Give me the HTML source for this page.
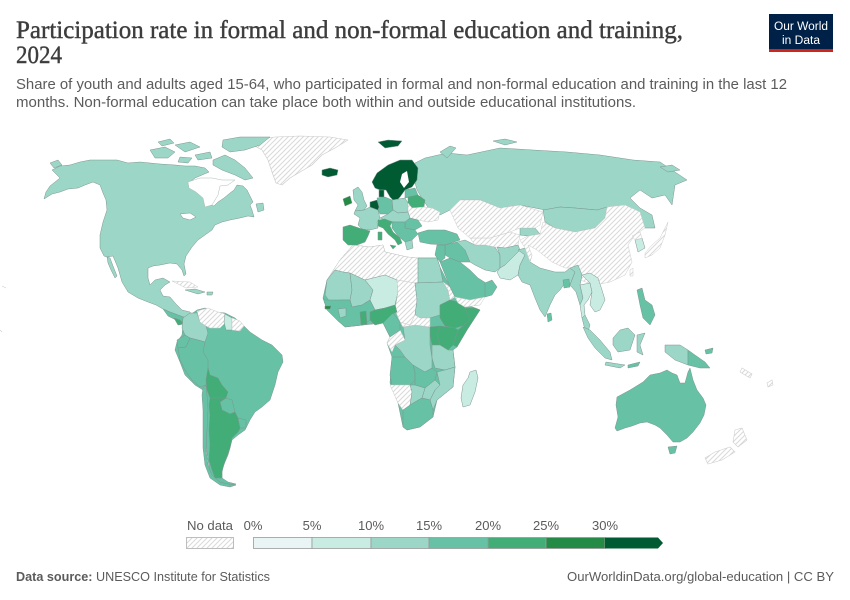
<!DOCTYPE html>
<html><head><meta charset="utf-8"><style>
html,body{margin:0;padding:0;background:#fff;}
svg{display:block;}
</style></head><body>
<svg width="850" height="600" viewBox="0 0 850 600" xmlns="http://www.w3.org/2000/svg">
<defs>
<pattern id="h" width="5" height="5" patternUnits="userSpaceOnUse">
<rect width="5" height="5" fill="#fff"/>
<path d="M-1,1 L1,-1 M0,5 L5,0 M4,6 L6,4" stroke="#d9d9d9" stroke-width="1"/>
</pattern>
</defs>
<rect width="850" height="600" fill="#fff"/>

<!-- Title -->
<text x="16" y="38" font-family="Liberation Serif, serif" font-size="25" fill="#3d3d3d" stroke="#3d3d3d" stroke-width="0.4" textLength="667" lengthAdjust="spacingAndGlyphs">Participation rate in formal and non-formal education and training,</text>
<text x="16" y="63" font-family="Liberation Serif, serif" font-size="25" fill="#3d3d3d" stroke="#3d3d3d" stroke-width="0.4" textLength="46" lengthAdjust="spacingAndGlyphs">2024</text>
<text x="16" y="89" font-family="Liberation Sans, sans-serif" font-size="14.5" fill="#5b5b5b" textLength="771" lengthAdjust="spacingAndGlyphs">Share of youth and adults aged 15-64, who participated in formal and non-formal education and training in the last 12</text>
<text x="16" y="107" font-family="Liberation Sans, sans-serif" font-size="14.5" fill="#5b5b5b" textLength="620" lengthAdjust="spacingAndGlyphs">months. Non-formal education can take place both within and outside educational institutions.</text>

<!-- Logo -->
<rect x="769" y="14" width="64" height="37" fill="#002147"/>
<rect x="769" y="49" width="64" height="3" fill="#ce261e"/>
<text x="801" y="30" text-anchor="middle" font-family="Liberation Sans, sans-serif" font-size="11.5" fill="#fff" textLength="54" lengthAdjust="spacingAndGlyphs">Our World</text>
<text x="801" y="44" text-anchor="middle" font-family="Liberation Sans, sans-serif" font-size="11.5" fill="#fff" textLength="38" lengthAdjust="spacingAndGlyphs">in Data</text>

<!-- MAP -->
<g stroke="#c9c9c9" stroke-width="0.6" stroke-linejoin="round">
<polygon fill="url(#h)" points="255,140 275,137 300,136 330,137 348,140 335,148 322,155 312,165 300,172 290,178 282,185 276,183 272,172 268,160 262,150 253,145"/>
</g>

<g stroke="#7e9690" stroke-width="0.5" stroke-linejoin="round">
<polygon fill="#9bd6c6" points="44,199 52,194 60,192 68,189 78,188 85,185 93,182 100,185 103,193 106,200 107,210 103,222 100,235 100,248 104,256 107,257 113,256 118,268 122,282 128,292 138,298 148,302 156,305 163,309 170,312 178,315 186,318 192,316 190,312 182,310 176,304 170,297 163,296 160,290 165,285 170,282 163,278 155,280 150,285 148,278 148,268 153,266 160,265 170,263 177,264 182,270 184,276 186,274 184,264 186,256 192,247 198,240 205,235 212,230 215,225 222,222 230,220 240,218 248,216 254,217 252,210 250,205 253,202 250,196 247,190 243,186 237,185 234,190 230,193 224,198 218,202 214,206 210,205 210,198 205,194 198,190 194,186 190,182 195,178 202,175 209,172 205,168 195,166 185,166 175,165 160,164 150,163 140,162 128,163 117,160 103,160 90,160 80,162 70,165 60,166 52,170 56,174 60,178 55,182 50,186 46,192"/>
<polygon fill="#9bd6c6" points="107,257 110,258 113,266 117,276 115,278 111,270 108,263"/>
<polygon fill="#9bd6c6" points="150,150 165,147 175,152 168,158 155,158"/>
<polygon fill="#9bd6c6" points="175,145 190,142 200,147 185,152"/>
<polygon fill="#9bd6c6" points="213,160 225,155 235,160 245,168 253,178 245,180 235,175 222,170 213,165"/>
<polygon fill="#9bd6c6" points="223,140 240,137 270,137 260,145 245,150 230,152 222,147"/>
<polygon fill="#9bd6c6" points="195,155 210,152 212,158 198,160"/>
<polygon fill="#9bd6c6" points="180,157 192,158 188,163 178,162"/>
<polygon fill="#9bd6c6" points="158,142 170,139 174,143 162,146"/>
<polygon fill="#9bd6c6" points="50,163 58,160 62,165 54,168"/>
<polygon fill="#9bd6c6" points="256,204 263,203 264,210 258,212"/>
<polygon fill="#66c1a5" points="163,309 170,312 178,315 186,318 183,322 176,320 168,316"/>
<polygon fill="#42ad76" points="174,318 180,320 184,324 178,325"/>
<polygon fill="#9bd6c6" points="185,290 195,289 205,292 198,294"/>
<polygon fill="url(#h)" stroke="#ccc" points="172,281 190,282 198,287 186,288"/>
<polygon fill="#9bd6c6" points="207,292 213,292 212,295 207,295"/>

<polygon fill="#fff" stroke="#a9bdb7" points="188,182 200,178 212,178 222,180 235,180 228,185 220,186 218,195 212,205 205,207 203,198 196,192 189,188"/>
<polygon fill="#fff" points="180,214 190,213 196,217 190,220 183,218"/>

<!-- South America -->
<polygon fill="#66c1a5" points="190,315 197,310 205,308 215,312 225,313 235,318 243,325 250,332 262,340 272,345 282,355 283,362 278,372 275,385 270,400 262,407 255,412 250,420 245,430 238,435 232,440 230,448 228,455 225,462 222,470 222,478 228,482 236,484 230,486 222,484 215,480 210,472 208,460 206,445 205,430 205,415 205,400 203,390 195,385 185,375 180,362 175,350 177,342 182,335 183,325 186,318"/>
<polygon fill="#9bd6c6" points="183,318 190,313 197,313 200,322 206,326 208,333 205,342 198,340 190,338 185,335 182,328"/>
<polygon fill="url(#h)" stroke="#ccc" points="197,311 208,308 218,312 225,314 226,322 220,328 210,328 206,326 200,322"/>
<polygon fill="#c8ebe2" points="225,314 232,318 232,330 226,330 224,322"/>
<polygon fill="url(#h)" stroke="#ccc" points="232,318 240,321 244,326 240,331 232,330"/>
<polygon fill="#66c1a5" points="177,340 185,335 190,338 186,347 178,348"/>
<polygon fill="#66c1a5" points="178,348 186,347 190,338 198,340 205,342 203,352 208,360 208,372 206,385 200,387 192,380 185,370 180,360"/>
<polygon fill="#42ad76" points="208,368 210,375 218,378 222,385 228,392 226,398 218,398 210,398 207,390 206,380"/>
<polygon fill="#66c1a5" points="226,398 232,400 235,412 230,414 222,410 220,402"/>
<polygon fill="#66c1a5" points="206,385 207,395 208,410 207,430 206,450 208,465 212,475 220,482 228,484 236,485 230,487 220,485 210,478 205,465 203,448 203,430 203,410 202,395 203,388"/>
<polygon fill="#42ad76" points="210,398 218,398 226,398 220,402 222,410 230,414 235,412 238,418 242,425 238,432 232,438 230,448 227,456 224,464 222,472 222,478 215,478 212,470 209,460 210,445 209,430 210,415 209,405"/>
<polygon fill="#66c1a5" points="238,418 246,420 246,428 240,428"/>

<!-- Africa -->
<polygon fill="#66c1a5" points="353,245 370,247 383,245 385,252 407,257 418,258 437,258 440,267 450,287 460,302 475,308 480,310 467,330 457,347 453,350 455,367 453,387 437,400 433,417 420,427 407,430 403,427 398,403 390,383 392,357 387,343 390,337 383,323 363,325 345,327 337,320 327,310 323,298 327,280 340,260"/>
<polygon fill="url(#h)" stroke="#ccc" points="353,245 370,247 383,245 385,252 407,257 418,258 418,283 415,283 397,280 385,275 373,278 365,280 350,273 343,272 335,270 327,280 340,260"/>
<polygon fill="#9bd6c6" points="327,280 335,270 343,272 350,273 352,290 350,300 340,300 330,302 325,295"/>
<polygon fill="#9bd6c6" points="350,273 365,280 373,290 370,300 362,305 352,307 350,300 352,290"/>
<polygon fill="#c8ebe2" points="365,280 373,278 385,275 397,280 398,292 395,305 385,308 375,310 370,300 373,290"/>
<polygon fill="#9bd6c6" points="418,258 437,258 440,267 443,282 418,283"/>
<polygon fill="url(#h)" stroke="#ccc" points="397,280 415,283 417,300 415,315 410,325 400,322 395,310 398,292"/>
<polygon fill="#9bd6c6" points="415,283 443,282 448,290 450,300 440,305 440,315 430,318 420,318 415,315 417,300"/>
<polygon fill="url(#h)" stroke="#ccc" points="443,282 450,287 455,297 450,300 448,290"/>
<polygon fill="#42ad76" points="440,305 450,300 458,302 465,308 475,308 480,310 472,320 465,325 455,328 445,326 440,318"/>
<polygon fill="#42ad76" points="465,308 475,308 480,310 467,330 457,347 453,345 458,330 470,320"/>
<polygon fill="#42ad76" points="440,326 455,328 458,330 453,345 448,350 440,345 437,335"/>
<polygon fill="#42ad76" points="430,327 440,326 437,335 440,345 432,345 430,335"/>
<polygon fill="#9bd6c6" points="432,345 440,345 448,350 453,350 455,367 445,370 435,368 432,358"/>
<polygon fill="#9bd6c6" points="403,327 415,325 430,327 430,345 432,358 432,368 425,372 415,372 413,365 405,357 400,350 395,345 405,340"/>
<polygon fill="url(#h)" stroke="#ccc" points="390,337 400,330 405,340 395,345 392,352 387,343"/>
<polygon fill="url(#h)" stroke="#ccc" points="410,325 415,315 420,318 430,318 430,327 415,325 403,327 400,322"/>
<polygon fill="#66c1a5" points="383,317 392,312 397,318 400,322 400,330 390,337 383,323"/>
<polygon fill="#42ad76" points="370,312 375,310 385,308 395,305 397,312 392,314 383,323 375,325 370,320"/>
<polygon fill="#66c1a5" points="325,300 340,300 350,300 352,307 362,305 370,300 375,310 370,312 370,320 363,325 345,327 337,320 327,310 323,298"/>
<polygon fill="#42ad76" points="360,312 366,311 367,324 361,325"/>
<polygon fill="#9bd6c6" points="338,309 346,308 346,316 340,318"/>
<polygon fill="#248b46" points="325,306 331,306 330,309 325,309"/>
<polygon fill="#66c1a5" points="392,357 405,357 413,365 415,372 415,380 410,385 392,385 390,375"/>
<polygon fill="#66c1a5" points="413,365 425,372 432,368 437,372 435,380 425,388 415,385 415,372"/>
<polygon fill="#9bd6c6" points="437,372 445,370 455,367 453,387 437,400 433,410 430,400 435,390 440,385"/>
<polygon fill="#9bd6c6" points="425,388 435,380 440,385 435,390 430,400 422,398"/>
<polygon fill="url(#h)" stroke="#ccc" points="390,385 410,385 412,392 410,405 403,410 398,403"/>
<polygon fill="#9bd6c6" points="410,385 415,385 425,388 422,398 415,402 410,405 412,392"/>
<polygon fill="#66c1a5" points="403,410 410,405 415,402 422,398 430,400 433,410 433,417 420,427 407,430 403,427"/>
<polygon fill="#c8ebe2" points="470,372 476,370 478,378 475,392 470,405 463,407 461,398 463,385 468,378"/>

<!-- Middle East / Asia -->
<polygon fill="#66c1a5" points="440,262 450,258 460,262 470,270 478,278 486,283 492,290 485,297 470,300 460,302 455,297 450,287"/>
<polygon fill="url(#h)" stroke="#ccc" points="455,297 470,300 485,297 480,305 465,307 458,303"/>
<polygon fill="#66c1a5" points="485,283 492,280 497,287 492,295 485,297"/>
<polygon fill="#66c1a5" points="445,245 457,242 465,250 470,262 460,262 450,258 445,255"/>
<polygon fill="#66c1a5" points="437,245 445,245 445,258 440,262 435,255"/>
<polygon fill="#66c1a5" points="418,233 428,230 445,230 457,234 460,240 445,245 430,244 420,242"/>
<polygon fill="#9bd6c6" points="457,242 465,240 475,245 485,245 495,247 500,255 500,268 495,272 485,270 475,265 470,262 465,250"/>
<polygon fill="url(#h)" stroke="#ccc" points="470,238 490,238 510,232 520,235 518,245 505,248 495,247 485,245 475,245"/>
<polygon fill="#9bd6c6" points="520,228 535,228 540,234 528,236 520,235"/>
<polygon fill="#9bd6c6" points="497,247 505,248 518,245 520,250 512,258 505,265 500,268 500,255"/>
<polygon fill="#c8ebe2" points="500,268 505,265 512,258 520,250 525,255 520,265 518,275 510,280 500,278 497,272"/>
<polygon fill="#9bd6c6" points="518,250 525,248 532,255 530,262 540,268 555,272 565,272 570,268 575,272 570,285 565,283 560,290 555,295 550,305 545,317 540,310 535,298 530,285 522,282 518,275 520,265 525,255"/>
<polygon fill="#66c1a5" points="547,314 551,313 552,320 548,322"/>
<polygon fill="#66c1a5" points="563,280 569,279 570,287 564,288"/>

<polygon fill="#9bd6c6" points="415,163 425,158 447,153 467,155 500,148 533,150 567,152 600,155 633,160 660,162 687,180 675,185 672,205 665,195 652,198 640,190 630,198 640,208 652,215 655,228 645,228 633,212 610,207 597,210 575,208 560,207 545,210 520,205 500,208 480,200 460,200 450,210 440,215 430,210 423,200 417,190 413,175"/>
<polygon fill="#9bd6c6" points="440,152 450,146 456,148 447,158"/>
<polygon fill="#9bd6c6" points="493,141 505,139 517,142 505,145"/>
<polygon fill="#9bd6c6" points="660,167 672,165 680,170 668,172"/>
<polygon fill="#9bd6c6" points="543,210 560,207 575,208 597,210 607,207 605,218 595,228 575,232 555,228 545,222"/>
<polygon fill="url(#h)" stroke="#ccc" points="450,210 460,200 480,200 500,208 520,205 543,212 540,225 535,228 520,228 510,232 490,238 470,238 458,228"/>
<polygon fill="url(#h)" stroke="#ccc" points="543,222 555,228 575,232 595,228 605,218 607,207 625,205 640,212 645,228 635,235 628,245 632,262 625,275 610,282 595,285 580,280 575,272 570,268 565,268 552,262 537,250 528,245 532,255 530,262 525,248 520,240 528,236 540,234"/>
<polygon fill="#c8ebe2" points="635,240 642,238 645,248 638,252"/>
<polygon fill="url(#h)" stroke="#ccc" points="632,236 640,232 642,238 635,240"/>
<polygon fill="url(#h)" stroke="#ccc" points="645,253 652,245 660,238 665,228 668,222 665,235 660,248 652,255 645,258"/>
<polygon fill="url(#h)" stroke="#ccc" points="630,270 633,268 633,276 630,276"/>

<polygon fill="#9bd6c6" points="570,268 578,265 582,275 580,285 583,298 580,305 576,292 570,285 575,272"/>
<polygon fill="#c8ebe2" points="580,285 590,283 592,292 588,300 584,305 585,315 582,318 580,305 583,298"/>
<polygon fill="#c8ebe2" points="582,275 590,273 598,278 602,290 605,300 600,310 595,312 590,305 592,292 590,283"/>
<polygon fill="#9bd6c6" points="582,318 585,315 590,325 588,332 584,326"/>
<polygon fill="#66c1a5" points="637,290 642,288 645,300 652,305 655,315 650,325 643,318 640,305"/>
<polygon fill="#9bd6c6" points="583,327 590,330 600,340 610,352 612,360 605,358 595,348 588,338"/>
<polygon fill="#9bd6c6" points="606,362 625,365 620,368 605,365"/>
<polygon fill="#66c1a5" points="628,365 640,362 638,366 628,368"/>
<polygon fill="#9bd6c6" points="613,338 620,330 628,328 635,335 630,350 618,352 613,345"/>
<polygon fill="#9bd6c6" points="637,335 645,333 640,345 643,355 637,352"/>
<polygon fill="#9bd6c6" points="665,345 680,345 688,350 688,365 675,360 665,352"/>
<polygon fill="#66c1a5" points="688,350 695,355 705,362 710,368 700,368 688,365"/>
<polygon fill="#66c1a5" points="705,350 713,348 712,353 706,354"/>

<polygon fill="#66c1a5" points="617,397 630,390 643,382 650,375 660,373 667,370 672,373 677,375 680,383 685,383 688,372 690,368 693,380 697,390 703,398 706,405 704,415 700,423 693,432 687,438 680,442 673,442 667,435 660,428 655,425 647,422 640,423 632,426 625,428 617,431 615,428 618,417 616,405"/>
<polygon fill="#66c1a5" points="668,447 677,446 675,453 670,454"/>
</g>
<g stroke="#cfcfcf" stroke-width="0.6" fill="url(#h)">
<polygon points="735,430 742,428 747,440 738,447 733,442"/>
<polygon points="705,458 715,452 730,447 735,452 722,460 708,464"/>
<polygon points="742,368 752,374 750,378 740,372"/>
<polygon points="767,383 772,380 773,385 768,387"/>
</g>

<!-- Europe -->
<g stroke="#7e9690" stroke-width="0.5" stroke-linejoin="round">
<polygon fill="#005a32" points="378,142 388,140 402,141 398,146 385,148"/>
<polygon fill="#005a32" points="322,170 330,168 338,170 337,175 328,177 322,175"/>
<polygon fill="#005a32" points="372,182 377,173 388,165 400,160 412,160 418,168 417,180 412,187 405,190 400,197 395,202 390,197 386,190 380,190 375,188"/>
<polygon fill="#fff" stroke="none" points="402,174 407,171 409,182 404,188 400,182"/>
<polygon fill="#005a32" points="379,190 384,190 384,197 379,197"/>
<polygon fill="#9bd6c6" points="353,190 358,187 362,192 364,200 367,206 364,210 355,211 358,205 354,200"/>
<polygon fill="#248b46" points="343,199 350,196 352,203 345,206"/>
<polygon fill="#9bd6c6" points="355,211 364,210 370,207 378,210 380,218 377,222 378,228 370,230 362,229 358,225 360,218 354,214"/>
<polygon fill="#005a32" points="370,202 377,200 379,207 378,210 370,207"/>
<polygon fill="#66c1a5" points="377,198 385,197 392,200 393,210 388,214 380,214 378,210 379,207"/>
<polygon fill="#9bd6c6" points="392,200 405,198 408,203 408,212 398,213 393,210"/>
<polygon fill="#66c1a5" points="405,190 415,188 418,195 410,197 405,198"/>
<polygon fill="#42ad76" points="408,197 418,195 425,200 424,207 412,208 408,203"/>
<polygon fill="url(#h)" stroke="#ccc" points="408,212 408,203 412,208 424,207 432,208 440,212 438,220 428,222 418,220 410,218"/>
<polygon fill="#9bd6c6" points="388,214 393,210 398,213 408,212 410,218 405,222 395,222 385,220 380,218"/>
<polygon fill="#66c1a5" points="405,222 410,218 418,220 422,226 415,230 405,228"/>
<polygon fill="#66c1a5" points="392,222 405,222 405,228 415,230 418,234 412,240 405,242 398,236 392,228"/>
<polygon fill="#42ad76" points="378,220 385,219 392,222 390,226 393,232 400,238 402,243 398,245 395,240 388,234 383,228 378,226"/>
<polygon fill="#42ad76" points="390,245 396,246 393,249"/>
<polygon fill="#42ad76" points="378,232 382,232 382,240 378,240"/>
<polygon fill="#42ad76" points="343,227 350,225 362,229 370,231 368,236 365,242 357,245 348,245 343,240"/>
<polygon fill="#9bd6c6" points="405,242 412,240 413,248 407,250"/>
</g>

<g fill="none" stroke="#ccc" stroke-width="0.6">
<path d="M2,286 l4,2"/><path d="M0,330 l2,2"/>
</g>

<!-- Legend -->
<g font-family="Liberation Sans, sans-serif" font-size="13" fill="#5b5b5b">
<text x="187" y="530" textLength="46" lengthAdjust="spacingAndGlyphs">No data</text>
<text x="253" y="530" text-anchor="middle">0%</text>
<text x="312" y="530" text-anchor="middle">5%</text>
<text x="371" y="530" text-anchor="middle">10%</text>
<text x="429" y="530" text-anchor="middle">15%</text>
<text x="488" y="530" text-anchor="middle">20%</text>
<text x="546" y="530" text-anchor="middle">25%</text>
<text x="605" y="530" text-anchor="middle">30%</text>
</g>
<rect x="186.5" y="537.5" width="47" height="11" fill="url(#h)" stroke="#bdbdbd" stroke-width="1"/>
<g stroke="#9a9a9a" stroke-width="0.8">
<rect x="253.5" y="537.5" width="58.5" height="11" fill="#e9f5f4"/>
<rect x="312" y="537.5" width="59" height="11" fill="#c8ebe2"/>
<rect x="371" y="537.5" width="58" height="11" fill="#9bd6c6"/>
<rect x="429" y="537.5" width="59" height="11" fill="#66c1a5"/>
<rect x="488" y="537.5" width="58" height="11" fill="#42ad76"/>
<rect x="546" y="537.5" width="59" height="11" fill="#248b46"/>
</g>
<polygon points="605,537.5 658,537.5 663,543 658,548.5 605,548.5" fill="#005a32"/>

<!-- Footer -->
<text x="16" y="581" font-family="Liberation Sans, sans-serif" font-size="13" fill="#5b5b5b" textLength="254" lengthAdjust="spacingAndGlyphs"><tspan font-weight="bold">Data source:</tspan> UNESCO Institute for Statistics</text>
<text x="834" y="581" text-anchor="end" font-family="Liberation Sans, sans-serif" font-size="13" fill="#5b5b5b" textLength="267" lengthAdjust="spacingAndGlyphs">OurWorldinData.org/global-education | CC BY</text>
</svg>
</body></html>
